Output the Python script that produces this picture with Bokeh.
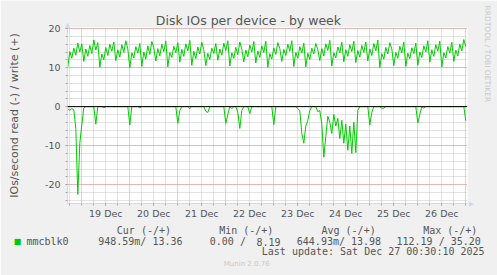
import numpy as np
from bokeh.plotting import figure
from bokeh.models import Range1d, FixedTicker, Span, ColumnDataSource, Title
from bokeh.embed import file_html
from bokeh.resources import INLINE

# ---------------- data (hourly samples, hours relative to Sat Dec 27 00:00) ----
start_hour = -199

write_iops = [
    10.2, 14.1, 12.4, 15.0, 13.2, 16.3, 14.0, 16.1,
    11.6, 14.8, 12.9, 15.7, 13.6, 17.1, 14.5, 16.4,
    10.1, 13.5, 12.0, 15.2, 13.1, 16.0, 14.2, 16.6,
    11.8, 14.6, 12.7, 15.9, 13.9, 16.9, 14.8,
    10.0, 13.8, 12.5, 15.4, 13.7, 16.2,
    10.3, 14.0, 12.2, 15.6, 13.4, 16.7, 15.1,
    11.7, 14.9, 13.0, 16.0, 14.1, 16.8,
    10.2, 13.9, 12.6, 15.5, 13.8, 16.4,
    11.4, 14.7, 12.9, 16.1, 14.3, 17.0,
    10.6, 14.2, 12.3, 15.3, 13.5, 16.5, 14.6,
    10.5, 13.7, 12.1, 15.0, 13.6, 16.2,
    11.9, 14.8, 13.2, 16.3, 14.4, 16.9,
    10.4, 13.8, 12.4, 15.2, 13.3, 16.6, 14.7,
    11.5, 14.5, 12.8, 15.8, 14.0, 16.7,
    11.2, 14.3, 12.6, 15.6, 13.9, 16.8,
    10.1, 13.6, 12.2, 15.1, 13.4, 16.4, 14.9,
    11.6, 14.7, 13.1, 16.0, 14.2, 16.9,
    10.3, 13.9, 12.4, 15.4, 13.7, 16.3,
    10.2, 13.7, 12.1, 15.0, 13.5, 16.2, 14.6,
    11.8, 14.9, 13.0, 16.1, 14.4, 17.0,
    10.4, 13.8, 12.5, 15.3, 13.8, 16.5,
    11.5, 14.6, 12.9, 15.9, 14.1, 16.8,
    11.3, 14.4, 12.7, 15.7, 13.9, 16.6,
    11.7, 14.8, 13.1, 16.2, 14.3, 17.1,
    10.0, 13.6, 12.2, 15.2, 13.5, 16.4, 14.8,
    10.5, 13.9, 12.4, 15.5, 13.8, 16.6,
    10.3, 13.7, 12.3, 15.1, 13.6, 16.3,
    10.6, 14.0, 12.6, 15.6, 14.0, 16.9,
    11.4, 14.6, 12.9, 15.9, 14.2, 16.8,
    10.2, 13.8, 12.5, 15.4, 13.7, 16.5,
    11.6, 14.5, 13.0, 16.0, 14.3, 17.2, 15.4,
]

# read IOs/s (drawn negative); samples not listed are 0
read_iops_nonzero = {
    0: 0.6, 1: 0.9, 2: 0.5, 3: 0.8, 4: 5.6, 5: 22.5, 6: 9.4, 7: 4.7, 8: 0.3,
    14: 4.5, 18: 0.3, 31: 4.7, 36: 0.3,
    55: 4.3, 56: 1.0, 61: 0.5, 69: 1.2, 70: 1.5,
    79: 4.3, 80: 2.0, 82: 0.5, 85: 1.5, 86: 5.6, 87: 1.0, 91: 1.8,
    103: 4.6,
    115: 0.5, 116: 1.0, 117: 6.9, 118: 9.4, 119: 5.0, 120: 3.5, 121: 1.0,
    125: 1.3, 126: 1.0, 127: 4.5, 128: 13.0, 129: 7.6, 130: 2.5, 131: 4.0,
    132: 6.9, 133: 2.0, 134: 5.0, 135: 3.0, 136: 8.2, 137: 3.5, 138: 9.4,
    139: 4.5, 140: 11.2, 141: 5.0, 142: 12.0, 143: 4.0, 144: 11.8, 145: 1.0,
    151: 4.7, 152: 1.5, 157: 0.4, 158: 0.4,
    175: 4.2, 176: 2.0, 178: 0.4, 199: 3.6,
}

day_boundaries = [-192, -168, -144, -120, -96, -72, -48, -24, 0]
day_label_hours = [-180, -156, -132, -108, -84, -60, -36, -12]
day_labels = ["19 Dec", "20 Dec", "21 Dec", "22 Dec",
              "23 Dec", "24 Dec", "25 Dec", "26 Dec"]
y_major = [-20, -10, 0, 10, 20]
y_labels = ["-20", "-10", "0", "10", "20"]

title_text = "Disk IOs per device - by week"
ylabel_text = "IOs/second read (-) / write (+)"
series_name = "mmcblk0"
col_heads = ["Cur (-/+)", "Min (-/+)", "Avg (-/+)", "Max (-/+)"]
col_vals = ["948.59m/ 13.36", "0.00 /", "8.19", "644.93m/ 13.98", "112.19 / 35.20"]
last_update = "Last update: Sat Dec 27 00:30:10 2025"
munin_ver = "Munin 2.0.76"
rrd_mark = "RRDTOOL / TOBI OETIKER"

# ---------------- figure ----------------
n = len(write_iops)
hours = start_hour + np.arange(n)
read_vals = np.array([read_iops_nonzero.get(i, 0.0) for i in range(n)])
src = ColumnDataSource(dict(x=hours, w=np.array(write_iops), r=-read_vals))

FONT = "#555555"
LIGHT = "#C8C8C8"
GREEN = "#00CC00"
AXIS = "#CFD6F8"
SANS = "DejaVu Sans"
MONO = "DejaVu Sans Mono"
NB = "\u00a0"
FRAME_LEFT = 67

p = figure(width=497, height=275, output_backend="svg", toolbar_location=None,
           x_range=Range1d(-199.15, 0.85), y_range=Range1d(-24.85, 20.3),
           min_border_left=FRAME_LEFT, min_border_right=30, min_border_top=27,
           min_border_bottom=72)
p.border_fill_color = "#F0F0F0"
p.background_fill_color = "#FFFFFF"
p.outline_line_color = None
p.title.text = ""

# grids
six_hour = [h for h in range(-198, 1, 6) if h not in day_boundaries]
p.xgrid.ticker = FixedTicker(ticks=day_boundaries, minor_ticks=six_hour)
p.ygrid.ticker = FixedTicker(ticks=y_major, minor_ticks=list(range(-24, 21, 2)))
for g in (p.xgrid, p.ygrid):
    g.grid_line_color = "#EB9090"
    g.grid_line_dash = "1 1"
    g.grid_line_width = 1
    g.minor_grid_line_color = "#C4C4C4"
    g.minor_grid_line_dash = "1 1"
    g.minor_grid_line_width = 1

# axes
p.xaxis.ticker = FixedTicker(ticks=day_label_hours, minor_ticks=list(range(-198, 1, 6)))
p.xaxis.major_label_overrides = {h: l for h, l in zip(day_label_hours, day_labels)}
p.yaxis.ticker = FixedTicker(ticks=y_major, minor_ticks=list(range(-24, 21, 2)))
p.yaxis.major_label_overrides = {v: l for v, l in zip(y_major, y_labels)}
for ax in (p.xaxis[0], p.yaxis[0]):
    ax.axis_line_color = AXIS
    ax.axis_line_width = 1
    ax.major_tick_line_color = "#A8A8A8"
    ax.minor_tick_line_color = "#A8A8A8"
    ax.major_tick_in = 0
    ax.major_tick_out = 2
    ax.minor_tick_in = 0
    ax.minor_tick_out = 2
    ax.major_label_text_font = SANS
    ax.major_label_text_font_size = "9.5px"
    ax.major_label_text_color = FONT
p.xaxis.major_label_standoff = 2
p.yaxis.major_label_standoff = 5
p.yaxis.axis_label = ylabel_text
p.yaxis.axis_label_text_font = SANS
p.yaxis.axis_label_text_font_size = "11px"
p.yaxis.axis_label_text_font_style = "normal"
p.yaxis.axis_label_text_color = FONT
p.yaxis.axis_label_standoff = 21

# series
p.line("x", "w", source=src, line_color=GREEN, line_width=1)
p.line("x", "r", source=src, line_color=GREEN, line_width=1)
p.add_layout(Span(location=0, dimension="width", line_color="black", line_width=1))


# ---- texts around the chart, built from stacked side-panel titles ----
def text_h(size_px):
    return 1.164 * size_px          # DejaVu ascent + descent


def row_text(text, x_canvas, size_px, font=MONO, color=FONT):
    """title centred on the current panel boundary (zero-height panel)"""
    return Title(text=text, align="left", offset=x_canvas - FRAME_LEFT,
                 text_font=font, text_font_size=f"{size_px}px",
                 text_font_style="normal", text_color=color,
                 vertical_align="middle", standoff=-(2 + text_h(size_px)))


def spacer(height, size_px=10):
    return Title(text=NB, align="left", offset=0, text_font=MONO,
                 text_font_size=f"{size_px}px", text_color="#F0F0F0",
                 vertical_align="middle", standoff=height - 2 - text_h(size_px))


# above: axis arrow, then the chart title
p.add_layout(spacer(4), "above")
p.add_layout(row_text("\u25b2", 64.6, 6.5, font=SANS, color=AXIS), "above")
p.add_layout(Title(text=title_text, align="left", offset=155.3 - FRAME_LEFT,
                   text_font=SANS, text_font_size="12.5px", text_font_style="normal",
                   text_color=FONT, vertical_align="bottom", standoff=-7), "above")

# below: x-axis arrow sits on the frame edge, before the axis
p.below.insert(0, row_text("\u25b6", 468.2, 6.5, font=SANS, color=AXIS))

# x axis panel ends near y=218
p.add_layout(spacer(10), "below")                       # header row at y~228
for t, x in zip(col_heads, [116.3, 218.7, 321.0, 422.7]):
    p.add_layout(row_text(t, x, 10), "below")
p.add_layout(spacer(12), "below")                       # series row at y~240
p.add_layout(row_text(series_name, 26, 10), "below")
for t, x in zip(col_vals, [97.7, 209.3, 256.0, 296.3, 396.0]):
    p.add_layout(row_text(t, x, 10), "below")
p.add_layout(row_text("\u25a0", 13.3, 8, font=SANS, color=GREEN), "below")
p.add_layout(spacer(11), "below")                       # last update at y~251
p.add_layout(row_text(last_update, 261.3, 10), "below")
p.add_layout(spacer(13), "below")                       # munin version at y~264
p.add_layout(row_text(munin_ver, 223.3, 7, font=SANS, color=LIGHT), "below")

# right-hand vertical watermark
p.add_layout(spacer(20, size_px=7.5), "right")
p.add_layout(row_text(rrd_mark, 5, 7.5, font=SANS, color=LIGHT), "right")
p.right[-1].offset = 5 - 27

open("out.html", "w").write(file_html(p, INLINE))
